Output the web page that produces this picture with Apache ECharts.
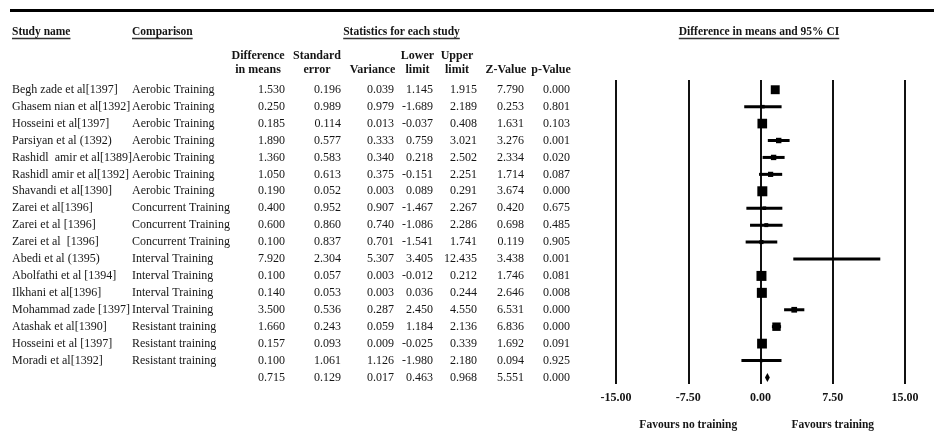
<!DOCTYPE html>
<html>
<head>
<meta charset="utf-8">
<script src="https://cdn.jsdelivr.net/npm/echarts@6/dist/echarts.min.js"></script>
<style>
  html, body { margin: 0; padding: 0; background: #ffffff; }
  #chart { width: 934px; height: 435px; }
</style>
</head>
<body>
<div id="chart"></div>
<script>
// ---- Study data ----
const studyNames = [
  'Begh zade et al[1397]', 'Ghasem nian et al[1392]', 'Hosseini et al[1397]',
  'Parsiyan et al (1392)', 'Rashidl  amir et al[1389]', 'Rashidl amir et al[1392]',
  'Shavandi et al[1390]', 'Zarei et al[1396]', 'Zarei et al [1396]', 'Zarei et al  [1396]',
  'Abedi et al (1395)', 'Abolfathi et al [1394]', 'Ilkhani et al[1396]',
  'Mohammad zade [1397]', 'Atashak et al[1390]', 'Hosseini et al [1397]', 'Moradi et al[1392]'
];
const comparisons = [
  'Aerobic Training', 'Aerobic Training', 'Aerobic Training', 'Aerobic Training',
  'Aerobic Training', 'Aerobic Training', 'Aerobic Training',
  'Concurrent Training', 'Concurrent Training', 'Concurrent Training',
  'Interval Training', 'Interval Training', 'Interval Training', 'Interval Training',
  'Resistant training', 'Resistant training', 'Resistant training'
];
const diffMeans   = [1.530, 0.250, 0.185, 1.890, 1.360, 1.050, 0.190, 0.400, 0.600, 0.100, 7.920, 0.100, 0.140, 3.500, 1.660, 0.157, 0.100];
const stdErrors   = [0.196, 0.989, 0.114, 0.577, 0.583, 0.613, 0.052, 0.952, 0.860, 0.837, 2.304, 0.057, 0.053, 0.536, 0.243, 0.093, 1.061];
const variances   = [0.039, 0.979, 0.013, 0.333, 0.340, 0.375, 0.003, 0.907, 0.740, 0.701, 5.307, 0.003, 0.003, 0.287, 0.059, 0.009, 1.126];
const lowerLimits = [1.145, -1.689, -0.037, 0.759, 0.218, -0.151, 0.089, -1.467, -1.086, -1.541, 3.405, -0.012, 0.036, 2.450, 1.184, -0.025, -1.980];
const upperLimits = [1.915, 2.189, 0.408, 3.021, 2.502, 2.251, 0.291, 2.267, 2.286, 1.741, 12.435, 0.212, 0.244, 4.550, 2.136, 0.339, 2.180];
const zValues     = [7.790, 0.253, 1.631, 3.276, 2.334, 1.714, 3.674, 0.420, 0.698, 0.119, 3.438, 1.746, 2.646, 6.531, 6.836, 1.692, 0.094];
const pValues     = [0.000, 0.801, 0.103, 0.001, 0.020, 0.087, 0.000, 0.675, 0.485, 0.905, 0.001, 0.081, 0.008, 0.000, 0.000, 0.091, 0.925];

// Pooled estimate: diff, SE, variance, lower, upper, Z, p
const overallStats = [0.715, 0.129, 0.017, 0.463, 0.968, 5.551, 0.000];

// Text for headers and axis
const statHeaders = [
  ['Difference', 'in means'], ['Standard', 'error'], ['', 'Variance'],
  ['Lower', 'limit'], ['Upper', 'limit'], ['', 'Z-Value'], ['', 'p-Value']
];
const axisTicks = [-15, -7.5, 0, 7.5, 15];
const favourLabels = ['Favours no training', 'Favours training'];

// ---- Layout / style constants ----
const SERIF = "'Liberation Serif', 'Times New Roman', serif";
const INK = '#151515';
const colRight  = [285, 341, 394, 433, 477, 524, 570];      // right edge of each numeric column
const colCenter = [258, 317, 372.5, 417.5, 457, 506, 551];  // header centres
const nameX = 12, compX = 132;
const tau2 = 0.135;     // between-study variance used for marker weighting
const maxBox = 10;      // largest marker side, px

const nRows = studyNames.length;
const weights = stdErrors.map(s => 1 / (s * s + tau2));
const maxW = Math.max.apply(null, weights);

function measure(text, font) {
  const ctx = document.createElement('canvas').getContext('2d');
  ctx.font = font;
  return ctx.measureText(text).width;
}

const chart = echarts.init(document.getElementById('chart'), null, { renderer: 'canvas' });

// Table rows (studies + pooled row)
const tableData = [];
for (let i = 0; i <= nRows; i++) tableData.push([0, i]);

function renderTableRow(params, api) {
  const i = api.value(1);
  const y = api.coord([0, i])[1];
  const font = '12px ' + SERIF;
  const children = [];
  let vals;
  if (i < nRows) {
    children.push({ type: 'text', x: nameX, y: y, style: { text: studyNames[i], font: font, fill: INK, align: 'left', verticalAlign: 'middle' } });
    children.push({ type: 'text', x: compX, y: y, style: { text: comparisons[i], font: font, fill: INK, align: 'left', verticalAlign: 'middle' } });
    vals = [diffMeans[i], stdErrors[i], variances[i], lowerLimits[i], upperLimits[i], zValues[i], pValues[i]];
  } else {
    vals = overallStats;
  }
  vals.forEach((v, k) => {
    children.push({ type: 'text', x: colRight[k], y: y, style: { text: v.toFixed(3), font: font, fill: INK, align: 'right', verticalAlign: 'middle' } });
  });
  return { type: 'group', children: children };
}

// Forest marks: CI whisker + weighted square
const forestData = diffMeans.map((d, i) => [lowerLimits[i], upperLimits[i], d, i, weights[i]]);

function renderStudy(params, api) {
  const lo = api.coord([api.value(0), api.value(3)]);
  const hi = api.coord([api.value(1), api.value(3)]);
  const c  = api.coord([api.value(2), api.value(3)]);
  const s = Math.max(1.5, maxBox * Math.sqrt(api.value(4) / maxW));
  return {
    type: 'group',
    children: [
      { type: 'line', shape: { x1: lo[0], y1: lo[1], x2: hi[0], y2: hi[1] }, style: { stroke: '#000', lineWidth: 3 } },
      { type: 'rect', shape: { x: c[0] - s / 2, y: c[1] - s / 2, width: s, height: s }, style: { fill: '#000' } }
    ]
  };
}

function renderPooled(params, api) {
  const row = api.value(3);
  const lo = api.coord([api.value(0), row]);
  const hi = api.coord([api.value(1), row]);
  const c  = api.coord([api.value(2), row]);
  const h = 4.5;
  return {
    type: 'polygon',
    shape: { points: [[lo[0], lo[1]], [c[0], c[1] - h], [hi[0], hi[1]], [c[0], c[1] + h]] },
    style: { fill: '#000' }
  };
}

// Header graphics with underlines
const titleFont = 'bold 11.5px ' + SERIF;
const headFont = 'bold 12px ' + SERIF;
const titles = [
  { text: 'Study name', x: nameX, align: 'left' },
  { text: 'Comparison', x: compX, align: 'left' },
  { text: 'Statistics for each study', x: 401.5, align: 'center' },
  { text: 'Difference in means and 95% CI', x: 759, align: 'center' }
];
const graphics = [
  { type: 'line', shape: { x1: 10, y1: 10.5, x2: 934, y2: 10.5 }, style: { stroke: '#000', lineWidth: 3 } }
];
titles.forEach(t => {
  const w = measure(t.text, titleFont);
  const x0 = t.align === 'left' ? t.x : t.x - w / 2;
  graphics.push({ type: 'text', x: t.x, y: 32.5, style: { text: t.text, font: titleFont, fill: INK, align: t.align, verticalAlign: 'middle' } });
  graphics.push({ type: 'line', shape: { x1: x0, y1: 38.5, x2: x0 + w, y2: 38.5 }, style: { stroke: '#333', lineWidth: 1.5 } });
});
statHeaders.forEach((h, k) => {
  if (h[0]) graphics.push({ type: 'text', x: colCenter[k], y: 55.5, style: { text: h[0], font: headFont, fill: INK, align: 'center', verticalAlign: 'middle' } });
  graphics.push({ type: 'text', x: colCenter[k], y: 69.5, style: { text: h[1], font: headFont, fill: INK, align: 'center', verticalAlign: 'middle' } });
});

const option = {
  backgroundColor: '#ffffff',
  animation: false,
  grid: { left: 616, right: 29, top: 80, bottom: 51 },
  xAxis: {
    type: 'value',
    min: axisTicks[0],
    max: axisTicks[axisTicks.length - 1],
    interval: 7.5,
    axisLine: { show: false },
    axisTick: { show: false },
    splitLine: { show: true, lineStyle: { color: '#111', width: 2 } },
    axisLabel: {
      formatter: v => v.toFixed(2),
      fontFamily: SERIF, fontWeight: 'bold', fontSize: 12, color: INK, margin: 8
    }
  },
  yAxis: {
    type: 'value',
    inverse: true,
    min: -0.575,
    max: 17.386,
    show: false
  },
  graphic: graphics,
  series: [
    { type: 'custom', name: 'table', clip: false, silent: true, renderItem: renderTableRow, data: tableData },
    { type: 'custom', name: 'studies', clip: false, silent: true, renderItem: renderStudy, data: forestData },
    { type: 'custom', name: 'pooled', clip: false, silent: true, renderItem: renderPooled,
      data: [[overallStats[3], overallStats[4], overallStats[0], nRows]] }
  ]
};
chart.setOption(option);

// Favour labels anchored under the ±7.5 ticks
const favourX = [axisTicks[1], axisTicks[3]].map(v => chart.convertToPixel({ xAxisIndex: 0 }, v));
chart.setOption({
  graphic: graphics.concat(favourLabels.map((t, k) => ({
    type: 'text', x: favourX[k], y: 425,
    style: { text: t, font: titleFont, fill: INK, align: 'center', verticalAlign: 'middle' }
  })))
});
</script>
</body>
</html>
